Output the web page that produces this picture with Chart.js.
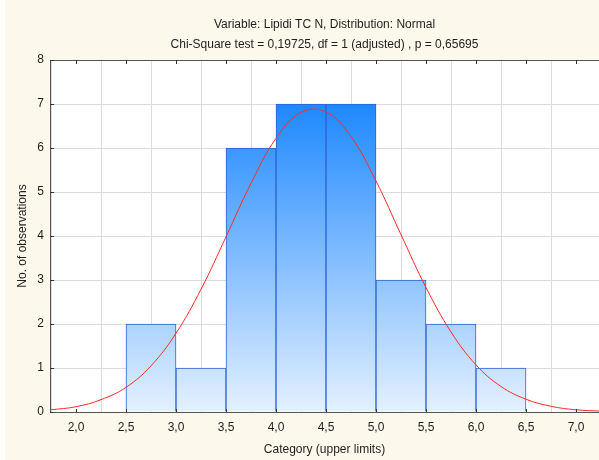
<!DOCTYPE html>
<html>
<head>
<meta charset="utf-8">
<script src="https://cdn.jsdelivr.net/npm/chart.js@4/dist/chart.umd.min.js"></script>
<style>
  html, body { margin: 0; padding: 0; background: #fdf8ec; }
  canvas { display: block; }
</style>
</head>
<body>
<canvas id="histChart" width="599" height="460"></canvas>
<script>
// histogram bins (upper limits) and observed counts
var binUpper = [3.0, 3.5, 4.0, 4.5, 5.0, 5.5, 6.0, 6.5];
var binCounts = [2, 1, 6, 7, 7, 3, 2, 1];
var binWidth = 0.5;

// expected normal curve, read at 0.25 steps
var curveX = [1.75, 2.0, 2.25, 2.5, 2.75, 3.0, 3.25, 3.5, 3.75, 4.0, 4.25, 4.5,
              4.75, 5.0, 5.25, 5.5, 5.75, 6.0, 6.25, 6.5, 6.75, 7.0, 7.25];
var curveY = [0.05, 0.12, 0.28, 0.56, 1.05, 1.79, 2.79, 3.98, 5.20, 6.22, 6.81, 6.82,
              6.26, 5.25, 4.03, 2.83, 1.82, 1.07, 0.58, 0.29, 0.13, 0.05, 0.02];

var xTicks = [2.0, 2.5, 3.0, 3.5, 4.0, 4.5, 5.0, 5.5, 6.0, 6.5, 7.0];
var yTicks = [0, 1, 2, 3, 4, 5, 6, 7, 8];

var titleLines = [
  'Variable: Lipidi TC N, Distribution: Normal',
  'Chi-Square test = 0,19725, df = 1 (adjusted) , p = 0,65695'
];

var FONT = '"Liberation Sans", Arial, sans-serif';
var TEXT = '#1e1e1e';

var barPoints = binUpper.map(function (u, i) {
  return { x: u - binWidth / 2, y: binCounts[i] };
});
var curvePoints = curveX.map(function (x, i) {
  return { x: x, y: curveY[i] };
});

function barFill(ctx) {
  var chart = ctx.chart;
  if (!chart.chartArea) return '#8fc3fe';
  var y = chart.scales.y;
  var g = chart.ctx.createLinearGradient(0, y.getPixelForValue(7), 0, y.getPixelForValue(0));
  g.addColorStop(0, '#1e88ff');
  g.addColorStop(1, '#e4f1fe');
  return g;
}

// page background, white plot area, frame, inward tick marks and the two-line heading
var framePlugin = {
  id: 'frame',
  beforeDraw: function (chart) {
    var c = chart.ctx, a = chart.chartArea;
    c.save();
    c.fillStyle = '#fdf8ec';
    c.fillRect(0, 0, chart.width, chart.height);
    c.fillStyle = '#fffdf7';
    c.fillRect(0, 0, 5, chart.height);
    c.fillStyle = '#ffffff';
    c.fillRect(a.left, a.top, a.right - a.left, a.bottom - a.top);
    c.restore();
  },
  afterDraw: function (chart) {
    var c = chart.ctx, a = chart.chartArea;
    var xs = chart.scales.x, ys = chart.scales.y;
    c.save();
    c.strokeStyle = '#555555';
    c.lineWidth = 1;
    c.beginPath();
    c.moveTo(a.left, a.top + 0.5);
    c.lineTo(a.right, a.top + 0.5);
    c.stroke();
    c.strokeStyle = '#333333';
    c.beginPath();
    xTicks.forEach(function (v) {
      var px = Math.round(xs.getPixelForValue(v)) + 0.5;
      c.moveTo(px, a.top);
      c.lineTo(px, a.top + 4);
      c.moveTo(px, a.bottom);
      c.lineTo(px, a.bottom - 3);
    });
    yTicks.forEach(function (v) {
      var py = Math.round(ys.getPixelForValue(v)) + 0.5;
      c.moveTo(a.left, py);
      c.lineTo(a.left + 4, py);
    });
    c.stroke();

    c.fillStyle = TEXT;
    c.font = '12px ' + FONT;
    c.textAlign = 'center';
    c.textBaseline = 'middle';
    var cx = (a.left + a.right) / 2;
    c.fillText(titleLines[0], cx, 25);
    c.fillText(titleLines[1], cx, 45);
    c.restore();
  }
};

var ctx = document.getElementById('histChart').getContext('2d');

var histChart = new Chart(ctx, {
  type: 'bar',
  data: {
    datasets: [
      {
        type: 'line',
        data: curvePoints,
        borderColor: '#ff2a2a',
        borderWidth: 1,
        pointRadius: 0,
        tension: 0.4,
        fill: false,
        order: 0
      },
      {
        type: 'bar',
        data: barPoints,
        backgroundColor: barFill,
        borderColor: '#2a62d4',
        borderWidth: 1,
        borderSkipped: 'start',
        barPercentage: 1.0,
        categoryPercentage: 1.0,
        order: 1
      }
    ]
  },
  options: {
    responsive: false,
    animation: false,
    devicePixelRatio: 1,
    layout: { padding: { top: 60, right: 0, left: 0, bottom: 0 } },
    plugins: {
      legend: { display: false },
      tooltip: { enabled: false },
      title: { display: false }
    },
    scales: {
      x: {
        type: 'linear',
        offset: false,
        min: 1.74,
        max: 7.23,
        afterBuildTicks: function (scale) {
          scale.ticks = xTicks.map(function (v) { return { value: v }; });
        },
        afterFit: function (scale) { scale.height = 48; },
        grid: { color: '#dcdcdc', drawTicks: false },
        border: { display: true, color: '#555555' },
        ticks: {
          padding: 8,
          color: TEXT,
          font: { family: FONT, size: 12 },
          maxRotation: 0,
          callback: function (v) { return v.toFixed(1).replace('.', ','); }
        },
        title: {
          display: true,
          text: 'Category (upper limits)',
          color: TEXT,
          font: { family: FONT, size: 12 },
          padding: { top: 0, bottom: 3 }
        }
      },
      y: {
        min: 0,
        max: 8,
        afterBuildTicks: function (scale) {
          scale.ticks = yTicks.map(function (v) { return { value: v }; });
        },
        afterFit: function (scale) { scale.width = 50; },
        grid: { color: '#dcdcdc', drawTicks: false },
        border: { display: true, color: '#555555' },
        ticks: {
          padding: 6,
          color: TEXT,
          font: { family: FONT, size: 12 }
        },
        title: {
          display: true,
          text: 'No. of observations',
          color: TEXT,
          font: { family: FONT, size: 12 },
          padding: { top: 15, bottom: 0 }
        }
      }
    }
  },
  plugins: [framePlugin]
});
</script>
</body>
</html>
